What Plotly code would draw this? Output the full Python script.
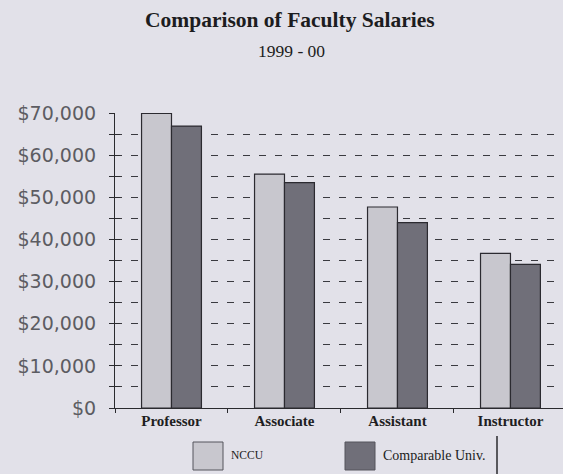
import plotly.graph_objects as go

# Faculty salary comparison, 1999-00
ranks = ["Professor", "Associate", "Assistant", "Instructor"]
nccu = [69900, 55500, 47700, 36700]
comparable = [66900, 53500, 44000, 34100]
series_names = ["NCCU", "Comparable Univ."]
tick_values = [0, 10000, 20000, 30000, 40000, 50000, 60000, 70000]
tick_labels = ["$" + format(v, ",") for v in tick_values]

W, H = 563, 474
M_L, M_R, M_T, M_B = 115, 0, 113, 66

BG = "#e2e1e9"
LIGHT = "#c8c7ce"
DARK = "#706f79"
EDGE = "#2b2a30"
INK = "#2a2a2e"

plot_w = W - M_L - M_R
plot_h = H - M_T - M_B


def px_x(px):
    return (px - M_L) / plot_w


def px_y(py):
    return (H - M_B - py) / plot_h


fig = go.Figure()
for name, vals, col in [(series_names[0], nccu, LIGHT), (series_names[1], comparable, DARK)]:
    fig.add_trace(go.Bar(
        x=ranks, y=vals, name=name,
        marker=dict(color=col, line=dict(color=EDGE, width=1.2)),
        showlegend=False,
    ))

# invisible trace carrying the inward half of the crossing ticks
fig.add_trace(go.Scatter(x=ranks, y=nccu, yaxis="y2", mode="none",
                         showlegend=False, hoverinfo="skip"))

fig.update_layout(
    width=W, height=H,
    margin=dict(l=M_L, r=M_R, t=M_T, b=M_B),
    paper_bgcolor=BG, plot_bgcolor=BG,
    barmode="group", bargap=0.47, bargroupgap=0,
    font=dict(family="Liberation Serif", color=INK),
    xaxis=dict(
        type="category", range=[-0.5, 3.465],
        showline=True, linecolor=INK, linewidth=1.2,
        ticks="outside", tickson="boundaries", ticklen=4, tickcolor=INK,
        tickfont=dict(family="Liberation Serif", size=15, color="#1e1e22", weight="bold"),
        ticklabelstandoff=-1,
        showgrid=False, zeroline=False, fixedrange=True,
    ),
    yaxis=dict(
        range=[0, 70000], tickvals=tick_values, ticktext=tick_labels,
        tickfont=dict(family="DejaVu Sans", size=19, color="#5c5c62"),
        ticks="outside", ticklen=5, tickcolor=INK, tickwidth=1.2,
        ticklabelstandoff=9,
        showline=True, linecolor=INK, linewidth=1.2,
        showgrid=True, gridcolor="#3a3a40", gridwidth=1, griddash="7px,9px",
        minor=dict(dtick=5000, tick0=0, ticks="outside", ticklen=5,
                   tickcolor=INK, tickwidth=1.2,
                   showgrid=True, gridcolor="#3a3a40", gridwidth=1,
                   griddash="7px,9px"),
        zeroline=False, fixedrange=True,
    ),
    yaxis2=dict(
        overlaying="y", side="left", range=[0, 70000], tickvals=tick_values,
        showticklabels=False, ticks="inside", ticklen=5, tickcolor=INK,
        tickwidth=1.2, showgrid=False, zeroline=False, showline=False,
        minor=dict(dtick=5000, tick0=0, ticks="inside", ticklen=5,
                   tickcolor=INK, tickwidth=1.2, showgrid=False),
        fixedrange=True,
    ),
)

# titles
fig.add_annotation(text="<b>Comparison of Faculty Salaries</b>", xref="paper", yref="paper",
                   x=px_x(289.5), y=px_y(20), xanchor="center", yanchor="middle",
                   showarrow=False,
                   font=dict(family="Liberation Serif", size=21.5, color="#1c1c20"))
fig.add_annotation(text="1999 - 00", xref="paper", yref="paper",
                   x=px_x(291), y=px_y(51), xanchor="center", yanchor="middle",
                   showarrow=False,
                   font=dict(family="Liberation Serif", size=17.5, color="#1c1c20"))

# legend
legend_items = [(series_names[0], LIGHT, 193, 11.5), (series_names[1], DARK, 345, 14)]
for name, col, left, fsize in legend_items:
    fig.add_shape(type="rect", xref="paper", yref="paper",
                  x0=px_x(left), x1=px_x(left + 30), y0=px_y(470), y1=px_y(442),
                  fillcolor=col, line=dict(color="#55545c", width=1))
    fig.add_annotation(text=name, xref="paper", yref="paper",
                       x=px_x(left + 36), y=px_y(455), xanchor="left", yanchor="middle",
                       showarrow=False,
                       font=dict(family="Liberation Serif", size=fsize, color="#1c1c20"))
fig.add_shape(type="line", xref="paper", yref="paper",
              x0=px_x(497), x1=px_x(497), y0=px_y(436), y1=px_y(476),
              line=dict(color=INK, width=1.5))

fig.write_html("out.html")
